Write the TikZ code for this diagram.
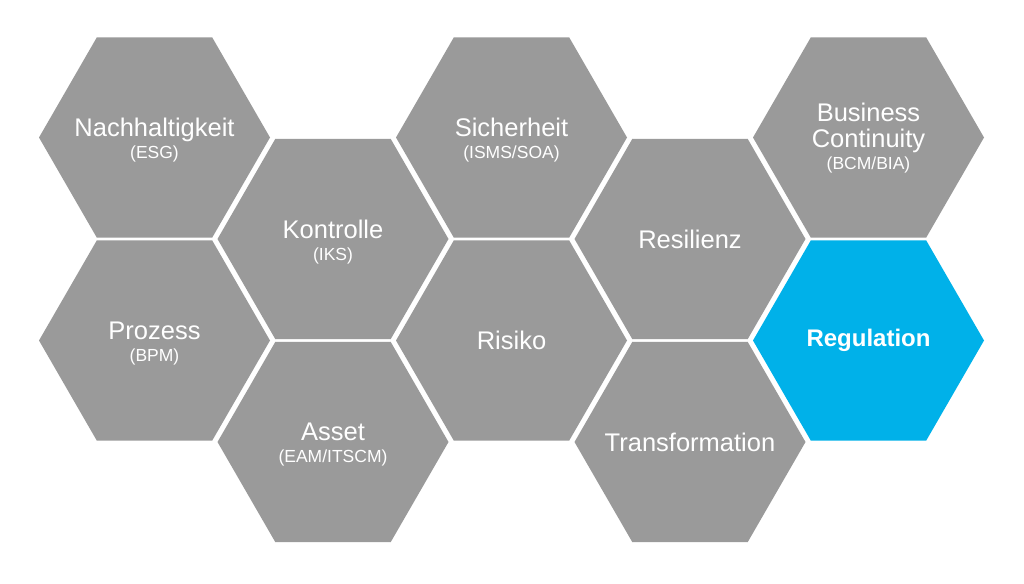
\documentclass[tikz,border=0pt]{standalone}
\usepackage{fontspec}
\setmainfont{Liberation Sans}
\usetikzlibrary{shapes.geometric}
\definecolor{hexgray}{HTML}{9A9A9A}
\definecolor{hexblue}{HTML}{00B1E9}
\newcommand{\mainfnt}{\fontsize{25.5}{26}\selectfont}
\newcommand{\boldfnt}{\fontsize{24}{25}\selectfont\bfseries}
\newcommand{\subfnt}{\fontsize{17.5}{20}\selectfont}
\tikzset{
  hexa/.style={regular polygon, regular polygon sides=6, minimum size=231pt,
    inner sep=0pt, outer sep=0pt, fill=hexgray, draw=none},
  hexb/.style={hexa, fill=hexblue},
  lbl/.style={text=white, align=center, font=\mainfnt, inner sep=0pt},
  lblb/.style={lbl, font=\boldfnt}
}
\begin{document}
\begin{tikzpicture}[x=1pt,y=-1pt]
\fill[white] (0,0) rectangle (1024,583);
\useasboundingbox (0,0) rectangle (1024,583);
% hexagons
\node[hexa] (nach) at (154.5,137.5) {};
\node[hexa] (proz) at (154.5,340.5) {};
\node[hexa] (kont) at (333,239) {};
\node[hexa] (asset) at (333,442) {};
\node[hexa] (sich) at (511.5,137.5) {};
\node[hexa] (risk) at (511.5,340.5) {};
\node[hexa] (resi) at (690,239) {};
\node[hexa] (trans) at (690,442) {};
\node[hexa] (bcm) at (868.5,137.5) {};
\node[hexb] (reg) at (868.5,340.5) {};
% labels
\node[lbl] (tnach) at ([yshift=-3pt]nach.center) {Nachhaltigkeit\\[-4pt]{\subfnt (ESG)}};
\node[lbl] (tproz) at ([yshift=-3pt]proz.center) {Prozess\\[-4pt]{\subfnt (BPM)}};
\node[lbl] (tkont) at ([yshift=-3pt]kont.center) {Kontrolle\\[-4pt]{\subfnt (IKS)}};
\node[lbl] (tasset) at ([yshift=-3pt]asset.center) {Asset\\[-4pt]{\subfnt (EAM/ITSCM)}};
\node[lbl] (tsich) at ([yshift=-3pt]sich.center) {Sicherheit\\[-4pt]{\subfnt (ISMS/SOA)}};
\node[lbl] (trisk) at (risk.center) {Risiko};
\node[lbl] (tresi) at (resi.center) {Resilienz};
\node[lbl] (ttrans) at (trans.center) {Transformation};
\node[lbl] (tbcm) at ([yshift=-1pt]bcm.center) {Business\\Continuity\\[-4pt]{\subfnt (BCM/BIA)}};
\node[lblb] (treg) at (reg.center) {Regulation};
\end{tikzpicture}
\end{document}
